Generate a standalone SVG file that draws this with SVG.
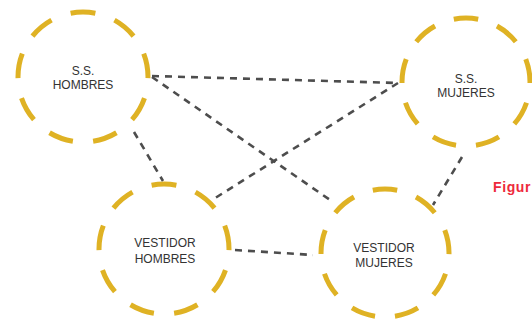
<svg xmlns="http://www.w3.org/2000/svg" width="532" height="328" viewBox="0 0 532 328">
  <style>
    .ring { fill: none; stroke: #DFB224; stroke-width: 5; stroke-dasharray: 5.5 4.5; stroke-dashoffset: 5.25; }
    .conn { fill: none; stroke: #4d4d4d; stroke-width: 2.6; stroke-dasharray: 7 6; }
    .lbl { font-family: "Liberation Sans", Arial, sans-serif; font-size: 12px; fill: #333333; text-anchor: middle; }
    .fig { font-family: "Liberation Sans", Arial, sans-serif; font-size: 14px; font-weight: bold; fill: #EE2A3C; letter-spacing: 0.6px; }
  </style>
  <rect width="532" height="328" fill="#ffffff"/>
  <g id="ss-hombres">
    <circle class="ring" cx="83" cy="77" r="65" pathLength="90"/>
    <text class="lbl" x="83" y="75">S.S.</text>
    <text class="lbl" x="83" y="89">HOMBRES</text>
  </g>
  <g id="ss-mujeres">
    <circle class="ring" cx="466" cy="82" r="64" pathLength="90"/>
    <text class="lbl" x="466" y="83">S.S.</text>
    <text class="lbl" x="466" y="97">MUJERES</text>
  </g>
  <g id="vestidor-hombres">
    <circle class="ring" cx="164" cy="249" r="65" pathLength="90"/>
    <text class="lbl" x="165" y="247">VESTIDOR</text>
    <text class="lbl" x="165" y="263">HOMBRES</text>
  </g>
  <g id="vestidor-mujeres">
    <circle class="ring" cx="385" cy="253" r="64" pathLength="90"/>
    <text class="lbl" x="384" y="252">VESTIDOR</text>
    <text class="lbl" x="384" y="267">MUJERES</text>
  </g>
  <g id="connectors">
    <line class="conn" x1="152" y1="76" x2="398" y2="83"/>
    <line class="conn" x1="152" y1="77" x2="333" y2="202"/>
    <line class="conn" x1="134" y1="132" x2="163" y2="181"/>
    <line class="conn" x1="398" y1="83" x2="212" y2="200"/>
    <line class="conn" x1="462" y1="157" x2="433" y2="205"/>
    <line class="conn" x1="235" y1="250" x2="313" y2="255"/>
  </g>
  <text class="fig" x="493" y="192">Figur</text>
</svg>
